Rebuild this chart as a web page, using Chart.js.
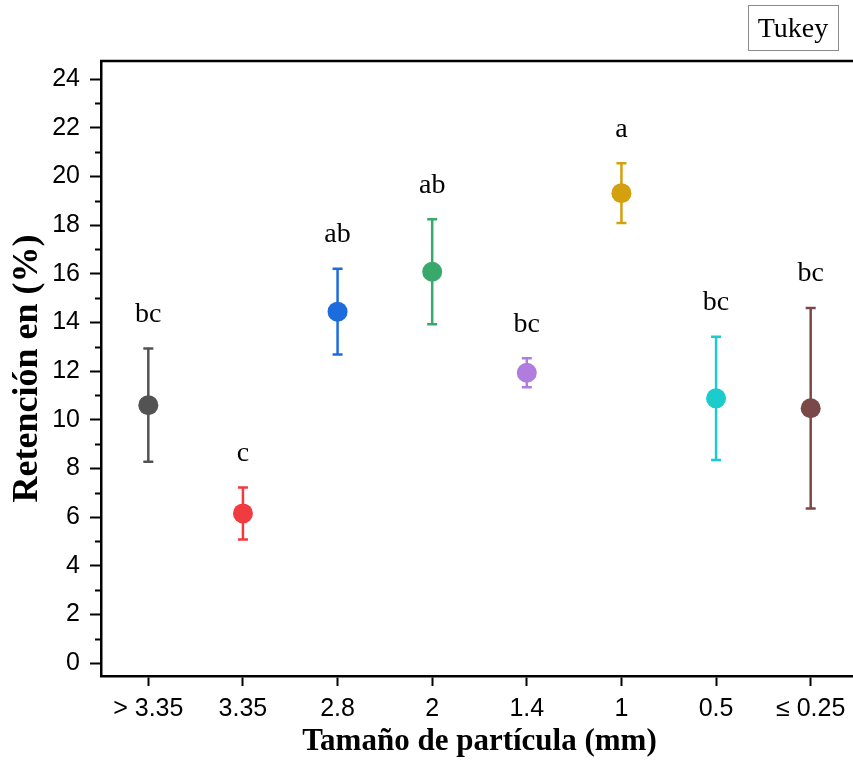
<!DOCTYPE html>
<html lang="es">
<head>
<meta charset="utf-8">
<title>Retención por tamaño de partícula</title>
<script src="https://cdn.jsdelivr.net/npm/chart.js@4.4.1/dist/chart.umd.min.js"></script>
<style>
    html, body { margin: 0; padding: 0; background: #fff; overflow: hidden; }
    #wrap { position: relative; width: 870px; height: 775px; }
</style>
</head>
<body>
<div id="wrap">
    <canvas id="retencionChart" width="870" height="775"></canvas>
</div>
<script>
// Datos: retención media y desviación por tamaño de partícula
const categorias = ['> 3.35', '3.35', '2.8', '2', '1.4', '1', '0.5', '≤ 0.25'];
const medias = [10.60, 6.15, 14.44, 16.08, 11.93, 19.31, 10.88, 10.47];
const desviaciones = [2.33, 1.07, 1.76, 2.16, 0.60, 1.23, 2.53, 4.12];
const letrasTukey = ['bc', 'c', 'ab', 'ab', 'bc', 'a', 'bc', 'bc'];
const colores = ['#535353', '#f03b40', '#1c6cde', '#38a96a', '#b07ddf', '#d4a00e', '#1ccccc', '#7a4848'];
const ticksY = [0, 2, 4, 6, 8, 10, 12, 14, 16, 18, 20, 22, 24];

const SERIF = '"Liberation Serif", "Times New Roman", serif';
const SANS = '"Liberation Sans", Arial, sans-serif';

// Barras de error, letras de Tukey, ticks menores y marco superior
const extrasPlugin = {
    id: 'extras',
    beforeDatasetsDraw(chart) {
        const ctx = chart.ctx;
        const x = chart.scales.x, y = chart.scales.y;
        ctx.save();
        ctx.lineWidth = 2.5;
        medias.forEach((m, i) => {
            const px = x.getPixelForValue(i);
            const top = y.getPixelForValue(m + desviaciones[i]);
            const bot = y.getPixelForValue(m - desviaciones[i]);
            ctx.strokeStyle = colores[i];
            ctx.beginPath();
            ctx.moveTo(px, top); ctx.lineTo(px, bot);
            ctx.moveTo(px - 5, top); ctx.lineTo(px + 5, top);
            ctx.moveTo(px - 5, bot); ctx.lineTo(px + 5, bot);
            ctx.stroke();
        });
        ctx.restore();
    },
    afterDraw(chart) {
        const ctx = chart.ctx;
        const x = chart.scales.x, y = chart.scales.y;
        const area = chart.chartArea;
        ctx.save();

        // letras de agrupamiento
        ctx.fillStyle = '#000';
        ctx.font = '28px ' + SERIF;
        ctx.textAlign = 'center';
        ctx.textBaseline = 'middle';
        medias.forEach((m, i) => {
            const px = x.getPixelForValue(i);
            const top = y.getPixelForValue(m + desviaciones[i]);
            ctx.fillText(letrasTukey[i], px, top - 34);
        });

        // ticks menores del eje Y
        ctx.strokeStyle = '#000';
        ctx.lineWidth = 2;
        ctx.beginPath();
        for (let v = 1; v < 24; v += 2) {
            const py = Math.round(y.getPixelForValue(v)) + 0.5;
            ctx.moveTo(area.left - 6, py);
            ctx.lineTo(area.left, py);
        }
        ctx.stroke();

        // borde superior
        ctx.lineWidth = 2.5;
        ctx.beginPath();
        ctx.moveTo(area.left - 1, area.top);
        ctx.lineTo(area.right, area.top);
        ctx.stroke();

        // recuadro "Tukey"
        ctx.strokeStyle = '#8a8a8a';
        ctx.lineWidth = 1;
        ctx.strokeRect(748.5, 5.5, 90, 45);
        ctx.fillStyle = '#000';
        ctx.font = '28px ' + SERIF;
        ctx.textAlign = 'center';
        ctx.textBaseline = 'middle';
        ctx.fillText('Tukey', 793, 30);
        ctx.restore();
    }
};

const ctx = document.getElementById('retencionChart');
new Chart(ctx, {
    type: 'scatter',
    data: {
        datasets: [{
            data: medias.map((m, i) => ({ x: i, y: m })),
            pointRadius: 10,
            pointHoverRadius: 10,
            pointBackgroundColor: colores,
            pointBorderColor: colores,
            pointBorderWidth: 0
        }]
    },
    options: {
        responsive: false,
        animation: false,
        devicePixelRatio: 1,
        layout: { padding: { left: 0, top: 61, right: 12, bottom: 0 } },
        plugins: {
            legend: { display: false },
            tooltip: { enabled: false }
        },
        scales: {
            x: {
                type: 'linear',
                min: -0.5,
                max: 7.5,
                afterBuildTicks: (scale) => { scale.ticks = categorias.map((c, i) => ({ value: i })); },
                afterFit: (scale) => { scale.height = 99; },
                grid: { display: true, drawOnChartArea: false, drawTicks: true, tickLength: 10, tickWidth: 2, tickColor: '#000' },
                border: { display: true, color: '#000', width: 2.5 },
                ticks: {
                    color: '#000',
                    font: { family: SANS, size: 25 },
                    padding: 8,
                    maxRotation: 0,
                    autoSkip: false,
                    callback: (v) => categorias[v]
                },
                title: {
                    display: true,
                    text: 'Tamaño de partícula (mm)',
                    color: '#000',
                    font: { family: SERIF, size: 31, weight: 'bold' },
                    padding: { top: 0, bottom: 14 }
                }
            },
            y: {
                min: -0.53,
                max: 24.74,
                afterBuildTicks: (scale) => { scale.ticks = ticksY.map(v => ({ value: v })); },
                afterFit: (scale) => { scale.width = 101; },
                grid: { display: true, drawOnChartArea: false, drawTicks: true, tickLength: 11, tickWidth: 2, tickColor: '#000' },
                border: { display: true, color: '#000', width: 2.5 },
                ticks: {
                    color: '#000',
                    font: { family: SANS, size: 25 },
                    padding: 10,
                    callback: (v) => v
                },
                title: {
                    display: true,
                    text: 'Retención en (%)',
                    color: '#000',
                    font: { family: SERIF, size: 36, weight: 'bold' },
                    padding: { top: 6, bottom: 0 }
                }
            }
        }
    },
    plugins: [extrasPlugin]
});
</script>
</body>
</html>
